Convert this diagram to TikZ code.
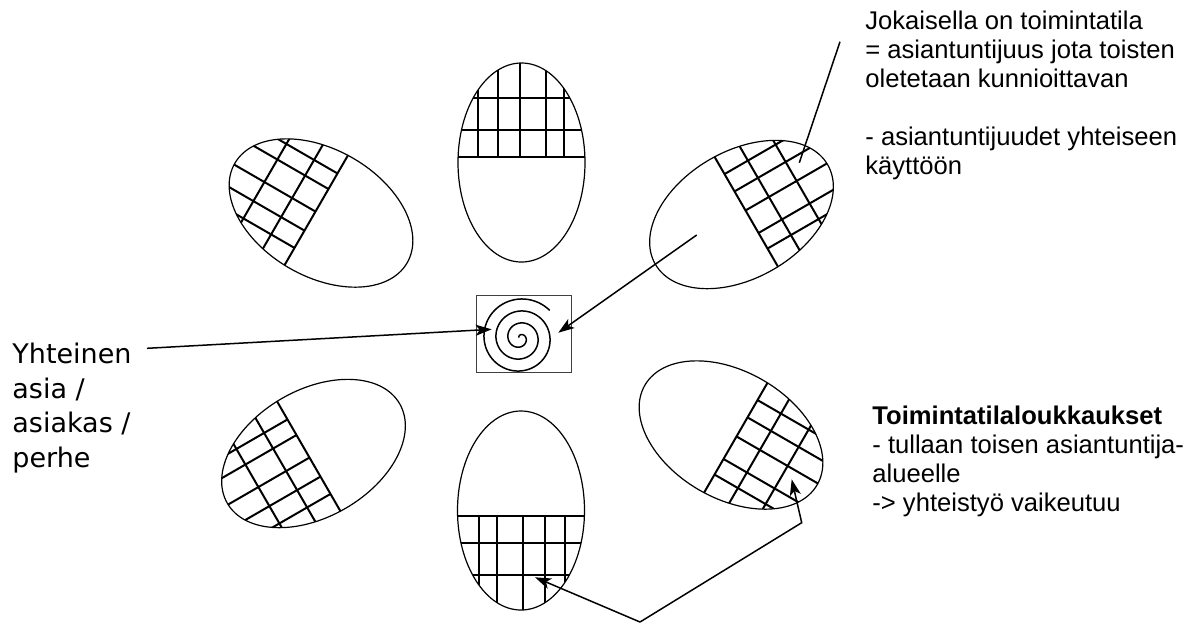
\documentclass[tikz,border=0pt]{standalone}
\usepackage{fontspec}
\setmainfont{Liberation Sans}
\newfontfamily\dejavu{DejaVu Sans}
\usetikzlibrary{arrows.meta}

\begin{document}
\begin{tikzpicture}[x=0.5pt, y=-0.5pt,
    petal/.style={line width=0.6pt},
    gridline/.style={line width=1pt},
    pointer/.style={line width=0.75pt, -{Stealth[length=8pt, width=5.5pt, inset=2pt]}},
    note/.style={anchor=north west, inner sep=0pt, align=left, font=\fontsize{12.8}{14.5}\selectfont}]
    \useasboundingbox (0,0) rectangle (1187,623);
    % six petals, the grid sits at the outer end of each
    \foreach \cx/\cy/\ang in {521.5/162.5/0, 741.5/214.5/-60, 731/435/-120, 521/510.5/180, 313.5/453.5/120, 321/213/60} {
      \begin{scope}[shift={(\cx,\cy)}, rotate=\ang]
        \draw[petal] (0,0) ellipse (63.5 and 99.5);
        \begin{scope}
          \clip (0,0) ellipse (63.5 and 99.5);
          \foreach \u in {-64.5,-32.5,-5.5}
            \draw[gridline] (-70,\u) -- (70,\u);
          \foreach \v in {-43.5,-23.5,-1.5,24.5,42.5}
            \draw[gridline] (\v,-105) -- (\v,-5.5);
        \end{scope}
      \end{scope}
    }
    % the common matter in the middle
    \node[draw=black!75, line width=0.5pt, minimum width=47.5pt, minimum height=38.5pt, inner sep=0pt] (hub) at (523.5,333.5) {};
    \draw[line width=0.75pt] plot[domain=-150:1037, samples=240, smooth, variable=\t] ({520+(6+\t/30)*cos(\t)}, {338+(6+\t/30)*sin(\t)});
    % texts
    \node[note] (expertise) at (865,11) {Jokaisella on toimintatila\\= asiantuntijuus jota toisten\\oletetaan kunnioittavan\\[14.5pt]- asiantuntijuudet yhteiseen\\käyttöön};
    \node[note] (breach) at (872,406) {\textbf{Toimintatilaloukkaukset}\\- tullaan toisen asiantuntija-\\alueelle\\-> yhteistyö vaikeutuu};
    \node[note, font=\dejavu\fontsize{13.5}{17.25}\selectfont] (common) at (12,343) {Yhteinen\\asia /\\asiakas /\\perhe};
    % connectors
    \coordinate (commonEnd) at (147,348.3);
    \coordinate (hubL) at (491.7,329.3);
    \coordinate (hubR) at (558.3,332.7);
    \coordinate (petalIn) at (696.7,235);
    \coordinate (leadTop) at (840,41.7);
    \coordinate (leadEnd) at (799.3,162.7);
    \coordinate (fork) at (640,622);
    \coordinate (bend) at (801.7,522.7);
    \coordinate (hitBottom) at (535,577.3);
    \coordinate (hitRight) at (791.7,479.3);
    \draw[pointer] (commonEnd) -- (hubL);
    \draw[pointer] (petalIn) -- (hubR);
    \draw[line width=0.75pt] (leadTop) -- (leadEnd);
    \draw[pointer] (fork) -- (hitBottom);
    \draw[pointer] (fork) -- (bend) -- (hitRight);
\end{tikzpicture}
\end{document}
